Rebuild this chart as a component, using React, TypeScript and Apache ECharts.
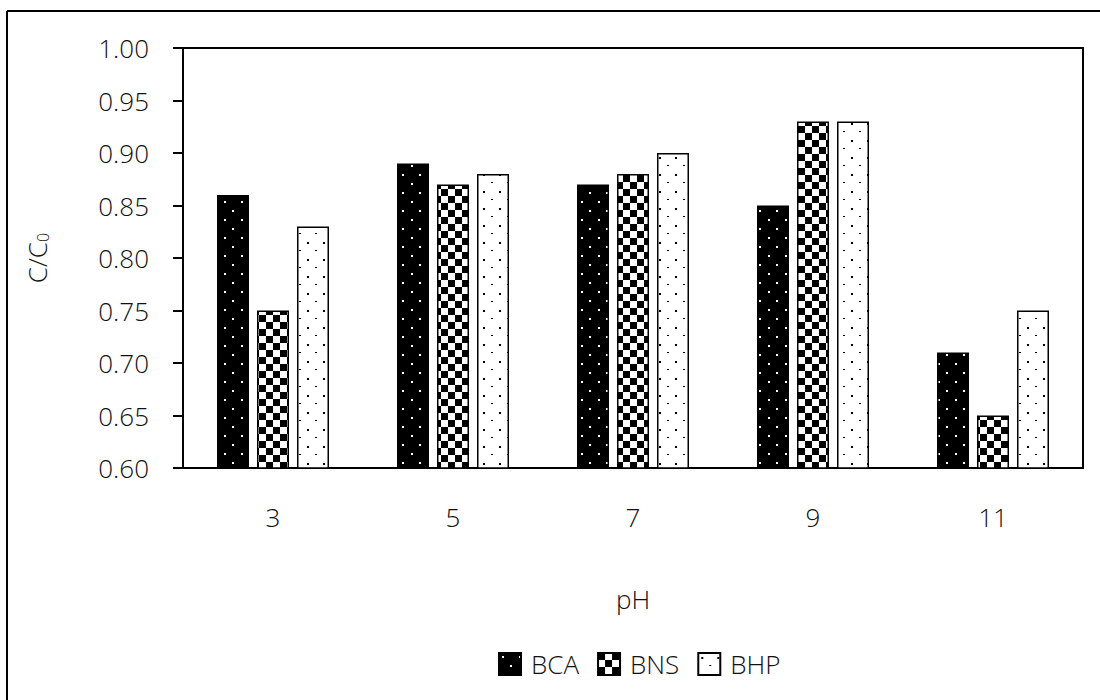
import React, { useEffect, useRef } from "react";
import * as echarts from "echarts";

const categories = ["3", "5", "7", "9", "11"];
const seriesNames = ["BCA", "BNS", "BHP"];
const bcaValues = [0.86, 0.89, 0.87, 0.85, 0.71];
const bnsValues = [0.75, 0.87, 0.88, 0.93, 0.65];
const bhpValues = [0.83, 0.88, 0.9, 0.93, 0.75];
const yTicks = { min: 0.6, max: 1.0, interval: 0.05 };

function makeCanvas(w: number, h: number, draw: (c: CanvasRenderingContext2D) => void) {
  const cv = document.createElement("canvas");
  cv.width = w;
  cv.height = h;
  const ctx = cv.getContext("2d")!;
  draw(ctx);
  return cv;
}

function patterns() {
  const bca = makeCanvas(17, 18, (c) => {
    c.fillStyle = "#000";
    c.fillRect(0, 0, 17, 18);
    c.fillStyle = "#fff";
    c.fillRect(3, 3, 2, 2);
    c.fillRect(11, 12, 2, 2);
  });
  const bns = makeCanvas(14, 14, (c) => {
    c.fillStyle = "#fff";
    c.fillRect(0, 0, 14, 14);
    c.fillStyle = "#000";
    c.fillRect(0, 0, 7, 7);
    c.fillRect(7, 7, 7, 7);
  });
  const bhp = makeCanvas(16, 17, (c) => {
    c.fillStyle = "#fff";
    c.fillRect(0, 0, 16, 17);
    c.fillStyle = "#000";
    c.fillRect(3, 4, 2, 2);
    c.fillRect(11, 12, 2, 1);
  });
  return [bca, bns, bhp];
}

export default function App() {
  const ref = useRef<HTMLDivElement>(null);
  useEffect(() => {
    if (!ref.current) return;
    const chart = echarts.init(ref.current, null, { renderer: "svg" });
    const pats = patterns();
    const font = "'Open Sans', 'Noto Sans', sans-serif";
    const txt = "#111";
    const data = [bcaValues, bnsValues, bhpValues];
    chart.setOption({
      animation: false,
      backgroundColor: "#fff",
      textStyle: { fontFamily: font },
      grid: {
        left: 183,
        right: 17,
        top: 48,
        bottom: 232,
        show: true,
        borderColor: "#000",
        borderWidth: 2,
      },
      legend: {
        data: seriesNames,
        top: 646,
        left: 493,
        itemWidth: 22,
        itemHeight: 22,
        itemGap: 18,
        icon: "rect",
        textStyle: { fontSize: 26, color: txt, fontFamily: font, fontWeight: 300, padding: [0, 0, 0, 5] },
      },
      xAxis: {
        type: "category",
        data: categories,
        name: "pH",
        nameLocation: "middle",
        nameGap: 118,
        nameTextStyle: { fontSize: 26, color: txt, fontFamily: font, fontWeight: 300 },
        axisLine: { lineStyle: { color: "#000", width: 2 } },
        axisTick: { show: false },
        axisLabel: { fontSize: 26, color: txt, margin: 36, fontFamily: font, fontWeight: 300 },
      },
      yAxis: {
        type: "value",
        min: yTicks.min,
        max: yTicks.max,
        interval: yTicks.interval,
        name: "{a|C/C}{b|0}",
        nameLocation: "middle",
        nameGap: 132,
        nameRotate: 90,
        nameTextStyle: {
          rich: {
            a: { fontSize: 26, color: txt, fontFamily: font, fontWeight: 300 },
            b: { fontSize: 16, color: txt, fontFamily: font, fontWeight: 300, padding: [12, 0, 0, 0] },
          },
        },
        axisLine: { show: true, lineStyle: { color: "#000", width: 2 } },
        axisTick: { show: true, length: 10, lineStyle: { color: "#000", width: 2 } },
        splitLine: { show: false },
        axisLabel: {
          fontSize: 26,
          color: txt,
          margin: 34,
          fontFamily: font,
          fontWeight: 300,
          formatter: (v: number) => v.toFixed(2),
        },
      },
      series: seriesNames.map((n, i) => ({
        name: n,
        type: "bar",
        data: data[i],
        barWidth: 32,
        barGap: "25%",
        itemStyle: {
          color: { image: pats[i], repeat: "repeat" },
          borderColor: "#000",
          borderWidth: 1.5,
        },
      })),
      graphic: [
        { type: "line", shape: { x1: 7, y1: 11, x2: 1100, y2: 11 }, style: { stroke: "#000", lineWidth: 2 } },
        { type: "line", shape: { x1: 7, y1: 11, x2: 7, y2: 700 }, style: { stroke: "#000", lineWidth: 2 } },
      ],
    });
    return () => chart.dispose();
  }, []);
  return <div ref={ref} style={{ width: 1100, height: 700, position: "absolute", left: 0, top: 0 }} />;
}
